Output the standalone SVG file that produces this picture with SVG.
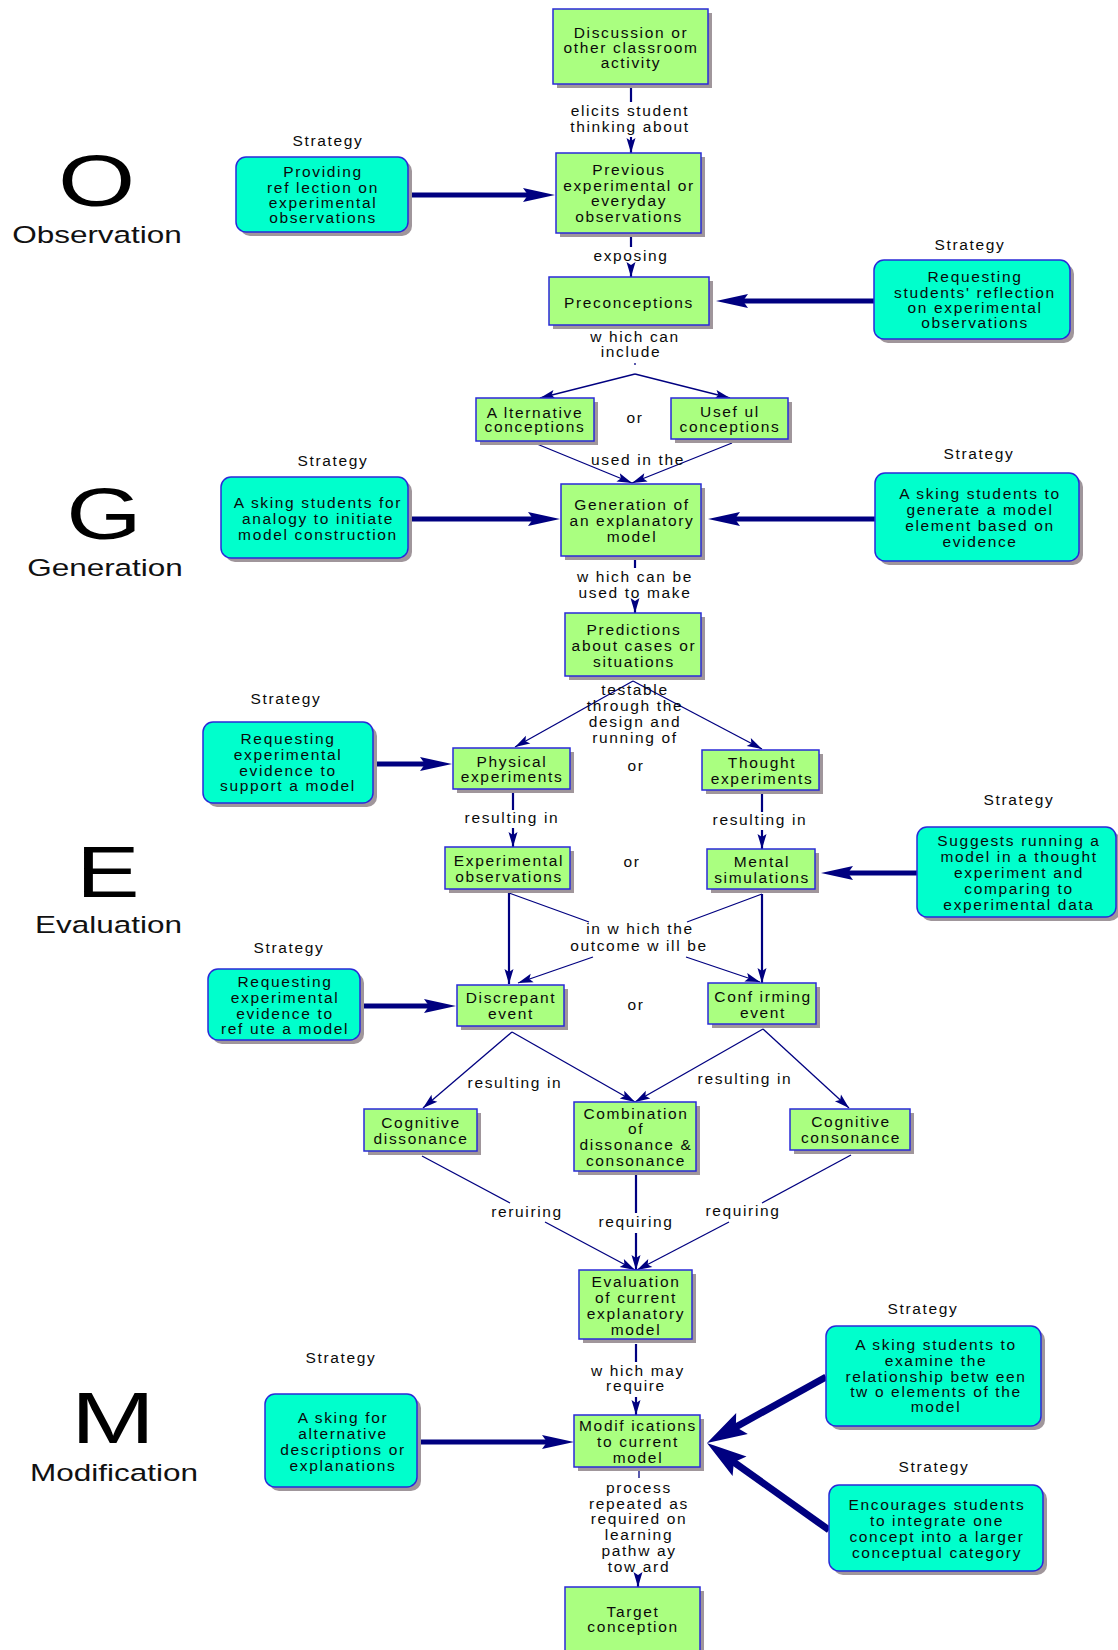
<svg xmlns="http://www.w3.org/2000/svg" width="1118" height="1650" viewBox="0 0 1118 1650">
<style>
text{font-family:"Liberation Sans",Arial,Helvetica,sans-serif;font-size:15.5px;letter-spacing:1.65px;fill:#0a0a0a;text-anchor:middle}
.big{font-size:73px;letter-spacing:0;fill:#000}
.ttl{font-size:23.5px;letter-spacing:0;fill:#111}
.sh{fill:#a0969b}
.cb{fill:#aaff80;stroke:#2a2ad8;stroke-width:1.5}
.sb{fill:#00ffcc;stroke:#2a2ad8;stroke-width:1.5}
.ln{fill:none;stroke:#000080;stroke-width:1.3}
.md{stroke-width:2.2}
.tk{stroke-width:5}
.vt{stroke-width:7}
</style>
<defs>
<marker id="at" markerUnits="userSpaceOnUse" orient="auto" overflow="visible" markerWidth="20" markerHeight="20" refX="0" refY="0"><path d="M0,0 L-15,-4.5 L-12,0 L-15,4.5 Z" fill="#000080"/></marker>
<marker id="ak" markerUnits="userSpaceOnUse" orient="auto" overflow="visible" markerWidth="40" markerHeight="20" refX="0" refY="0"><path d="M14,0 L-18,-7 L-13,0 L-18,7 Z" fill="#000080"/></marker>
<marker id="av" markerUnits="userSpaceOnUse" orient="auto" overflow="visible" markerWidth="50" markerHeight="30" refX="0" refY="0"><path d="M16,0 L-24,-12 L-17,0 L-24,12 Z" fill="#000080"/></marker>
</defs>
<rect width="1118" height="1650" fill="#fff"/>

<g id="phases">
<text class="big" transform="translate(96.5,206) scale(1.36,1)">O</text>
<text class="ttl" transform="translate(97,243) scale(1.34,1)">Observation</text>
<text class="big" transform="translate(104,539) scale(1.33,1)">G</text>
<text class="ttl" transform="translate(105,576) scale(1.34,1)">Generation</text>
<text class="big" transform="translate(108,897) scale(1.3,1)">E</text>
<text class="ttl" transform="translate(108.5,933) scale(1.34,1)">Evaluation</text>
<text class="big" transform="translate(113,1443) scale(1.38,1)">M</text>
<text class="ttl" transform="translate(114,1481) scale(1.34,1)">Modification</text>
</g>

<g id="connectors">
<!-- Discussion -> Previous -->
<path class="ln md" d="M631,88 V102"/>
<path class="ln md" d="M631,137 V153" marker-end="url(#at)"/>
<text x="630" y="116">elicits student</text><text x="630" y="132">thinking about</text>
<!-- Previous -> Preconceptions -->
<path class="ln md" d="M631,237 V247"/>
<path class="ln md" d="M631,266 V277" marker-end="url(#at)"/>
<text x="631" y="261">exposing</text>
<!-- Preconceptions -> Alternative / Useful -->
<text x="635" y="342">w hich can</text><text x="631" y="357">include</text>
<path class="ln" d="M635,363 V365"/>
<path class="ln" d="M635,374 L540,398" marker-end="url(#at)"/>
<path class="ln" d="M635,374 L730,398" marker-end="url(#at)"/>
<!-- Alternative / Useful -> Generation -->
<path class="ln" d="M537,444 L632,483" marker-end="url(#at)"/>
<path class="ln" d="M732,443 L632,483" marker-end="url(#at)"/>
<text x="638" y="465">used in the</text>
<!-- Generation -> Predictions -->
<path class="ln md" d="M635,560 V568"/>
<path class="ln md" d="M635,603 V613" marker-end="url(#at)"/>
<text x="635" y="582">w hich can be</text><text x="635" y="598">used to make</text>
<!-- Predictions -> Physical / Thought -->
<path class="ln" d="M633,681 L515,747" marker-end="url(#at)"/>
<path class="ln" d="M633,681 L762,749" marker-end="url(#at)"/>
<text x="635" y="695">testable</text><text x="635" y="711">through the</text><text x="635" y="727">design and</text><text x="635" y="743">running of</text>
<!-- Physical -> Experimental observations -->
<path class="ln md" d="M513,793 V810"/>
<path class="ln md" d="M513,828 V847" marker-end="url(#at)"/>
<text x="512" y="823">resulting in</text>
<!-- Thought -> Mental -->
<path class="ln md" d="M762,794 V812"/>
<path class="ln md" d="M762,830 V849" marker-end="url(#at)"/>
<text x="760" y="825">resulting in</text>
<!-- observations / simulations -> events -->
<path class="ln md" d="M509,893 V984" marker-end="url(#at)"/>
<path class="ln md" d="M762,894 V983" marker-end="url(#at)"/>
<path class="ln" d="M509,893 L589,922"/>
<path class="ln" d="M762,894 L687,922"/>
<path class="ln" d="M593,957 L518,983" marker-end="url(#at)"/>
<path class="ln" d="M686,957 L760,982" marker-end="url(#at)"/>
<text x="640" y="934">in w hich the</text><text x="639" y="951">outcome w ill be</text>
<!-- Discrepant -> -->
<path class="ln" d="M512,1032 L423,1108" marker-end="url(#at)"/>
<path class="ln" d="M512,1032 L635,1102" marker-end="url(#at)"/>
<text x="515" y="1088">resulting in</text>
<!-- Confirming -> -->
<path class="ln" d="M763,1029 L635,1102" marker-end="url(#at)"/>
<path class="ln" d="M763,1029 L849,1108" marker-end="url(#at)"/>
<text x="745" y="1084">resulting in</text>
<!-- -> Evaluation -->
<path class="ln" d="M422,1156 L510,1203"/>
<path class="ln" d="M545,1222 L635,1270" marker-end="url(#at)"/>
<text x="527" y="1217">reruiring</text>
<path class="ln md" d="M636,1175 V1213"/>
<path class="ln md" d="M636,1233 V1270" marker-end="url(#at)"/>
<text x="636" y="1227">requiring</text>
<path class="ln" d="M851,1155 L762,1203"/>
<path class="ln" d="M729,1222 L637,1270" marker-end="url(#at)"/>
<text x="743" y="1216">requiring</text>
<!-- Evaluation -> Modifications -->
<path class="ln md" d="M636,1344 V1362"/>
<path class="ln md" d="M636,1397 V1415" marker-end="url(#at)"/>
<text x="638" y="1376">w hich may</text><text x="636" y="1391">require</text>
<!-- Modifications -> Target -->
<path class="ln" d="M639,1471 V1478"/>
<path class="ln md" d="M638,1577 V1587" marker-end="url(#at)"/>
<text x="639" y="1493">process</text><text x="639" y="1509">repeated as</text><text x="639" y="1524">required on</text><text x="639" y="1540">learning</text><text x="639" y="1556">pathw ay</text><text x="639" y="1572">tow ard</text>
<!-- "or" labels -->
<text x="635" y="423">or</text>
<text x="636" y="771">or</text>
<text x="632" y="867">or</text>
<text x="636" y="1010">or</text>
<!-- strategy arrows -->
<path class="ln tk" d="M412,195 H541" marker-end="url(#ak)"/>
<path class="ln tk" d="M874,301 H730" marker-end="url(#ak)"/>
<path class="ln tk" d="M412,519 H546" marker-end="url(#ak)"/>
<path class="ln tk" d="M875,519 H722" marker-end="url(#ak)"/>
<path class="ln tk" d="M377,764 H438" marker-end="url(#ak)"/>
<path class="ln tk" d="M917,873 H835" marker-end="url(#ak)"/>
<path class="ln tk" d="M364,1006 H442" marker-end="url(#ak)"/>
<path class="ln tk" d="M421,1442 H560" marker-end="url(#ak)"/>
<path class="ln vt" d="M826,1377 L721,1435.2" marker-end="url(#av)"/>
<path class="ln vt" d="M829,1530 L720,1452.3" marker-end="url(#av)"/>
</g>

<g id="n-discussion"><rect class="sh" x="557" y="13" width="155" height="75"/><rect class="cb" x="553" y="9" width="155" height="75"/><text x="631" y="38">Discussion or</text><text x="631" y="53">other classroom</text><text x="631" y="68">activity</text></g>
<g id="n-previous"><rect class="sh" x="560" y="157" width="145" height="80"/><rect class="cb" x="556" y="153" width="145" height="80"/><text x="629" y="175">Previous</text><text x="629" y="191">experimental or</text><text x="629" y="206">everyday</text><text x="629" y="222">observations</text></g>
<g id="n-preconceptions"><rect class="sh" x="553" y="281" width="160" height="48"/><rect class="cb" x="549" y="277" width="160" height="48"/><text x="629" y="308">Preconceptions</text></g>
<g id="n-alternative"><rect class="sh" x="480" y="402" width="118" height="43"/><rect class="cb" x="476" y="398" width="118" height="43"/><text x="535" y="418">A lternative</text><text x="535" y="432">conceptions</text></g>
<g id="n-useful"><rect class="sh" x="675" y="402" width="117" height="41"/><rect class="cb" x="671" y="398" width="117" height="41"/><text x="730" y="417">Usef ul</text><text x="730" y="432">conceptions</text></g>
<g id="n-generation"><rect class="sh" x="565" y="488" width="140" height="72"/><rect class="cb" x="561" y="484" width="140" height="72"/><text x="632" y="510">Generation of</text><text x="632" y="526">an explanatory</text><text x="632" y="542">model</text></g>
<g id="n-predictions"><rect class="sh" x="569" y="617" width="136" height="63"/><rect class="cb" x="565" y="613" width="136" height="63"/><text x="634" y="635">Predictions</text><text x="634" y="651">about cases or</text><text x="634" y="667">situations</text></g>
<g id="n-physical"><rect class="sh" x="457" y="752" width="117" height="41"/><rect class="cb" x="453" y="748" width="117" height="41"/><text x="512" y="767">Physical</text><text x="512" y="782">experiments</text></g>
<g id="n-thought"><rect class="sh" x="706" y="754" width="117" height="40"/><rect class="cb" x="702" y="750" width="117" height="40"/><text x="762" y="768">Thought</text><text x="762" y="784">experiments</text></g>
<g id="n-expobs"><rect class="sh" x="449" y="851" width="125" height="42"/><rect class="cb" x="445" y="847" width="125" height="42"/><text x="509" y="866">Experimental</text><text x="509" y="882">observations</text></g>
<g id="n-mental"><rect class="sh" x="711" y="853" width="108" height="40"/><rect class="cb" x="707" y="849" width="108" height="40"/><text x="762" y="867">Mental</text><text x="762" y="883">simulations</text></g>
<g id="n-discrepant"><rect class="sh" x="461" y="989" width="107" height="41"/><rect class="cb" x="457" y="985" width="107" height="41"/><text x="511" y="1003">Discrepant</text><text x="511" y="1019">event</text></g>
<g id="n-confirming"><rect class="sh" x="712" y="987" width="108" height="41"/><rect class="cb" x="708" y="983" width="108" height="41"/><text x="763" y="1002">Conf irming</text><text x="763" y="1018">event</text></g>
<g id="n-cogdissonance"><rect class="sh" x="368" y="1113" width="113" height="42"/><rect class="cb" x="364" y="1109" width="113" height="42"/><text x="421" y="1128">Cognitive</text><text x="421" y="1144">dissonance</text></g>
<g id="n-combination"><rect class="sh" x="578" y="1106" width="122" height="69"/><rect class="cb" x="574" y="1102" width="122" height="69"/><text x="636" y="1119">Combination</text><text x="636" y="1134">of</text><text x="636" y="1150">dissonance &amp;</text><text x="636" y="1166">consonance</text></g>
<g id="n-cogconsonance"><rect class="sh" x="794" y="1113" width="120" height="41"/><rect class="cb" x="790" y="1109" width="120" height="41"/><text x="851" y="1127">Cognitive</text><text x="851" y="1143">consonance</text></g>
<g id="n-evaluation"><rect class="sh" x="583" y="1274" width="113" height="69"/><rect class="cb" x="579" y="1270" width="113" height="69"/><text x="636" y="1287">Evaluation</text><text x="636" y="1303">of current</text><text x="636" y="1319">explanatory</text><text x="636" y="1335">model</text></g>
<g id="n-modifications"><rect class="sh" x="578" y="1419" width="126" height="52"/><rect class="cb" x="574" y="1415" width="126" height="52"/><text x="638" y="1431">Modif ications</text><text x="638" y="1447">to current</text><text x="638" y="1463">model</text></g>
<g id="n-target"><rect class="sh" x="569" y="1591" width="135" height="68"/><rect class="cb" x="565" y="1587" width="135" height="68"/><text x="633" y="1617">Target</text><text x="633" y="1632">conception</text></g>

<g id="s-providing"><text x="328" y="146">Strategy</text><rect class="sh" x="240" y="161" width="172" height="75" rx="10"/><rect class="sb" x="236" y="157" width="172" height="75" rx="10"/><text x="323" y="177">Providing</text><text x="323" y="193">ref lection on</text><text x="323" y="208">experimental</text><text x="323" y="223">observations</text></g>
<g id="s-requesting-reflection"><text x="970" y="250">Strategy</text><rect class="sh" x="878" y="264" width="196" height="79" rx="10"/><rect class="sb" x="874" y="260" width="196" height="79" rx="10"/><text x="975" y="282">Requesting</text><text x="975" y="298">students' reflection</text><text x="975" y="313">on experimental</text><text x="975" y="328">observations</text></g>
<g id="s-analogy"><text x="333" y="466">Strategy</text><rect class="sh" x="225" y="481" width="187" height="81" rx="10"/><rect class="sb" x="221" y="477" width="187" height="81" rx="10"/><text x="318" y="508">A sking students for</text><text x="318" y="524">analogy to initiate</text><text x="318" y="540">model construction</text></g>
<g id="s-generate"><text x="979" y="459">Strategy</text><rect class="sh" x="879" y="477" width="204" height="88" rx="10"/><rect class="sb" x="875" y="473" width="204" height="88" rx="10"/><text x="980" y="499">A sking students to</text><text x="980" y="515">generate a model</text><text x="980" y="531">element based on</text><text x="980" y="547">evidence</text></g>
<g id="s-support"><text x="286" y="704">Strategy</text><rect class="sh" x="207" y="726" width="170" height="81" rx="10"/><rect class="sb" x="203" y="722" width="170" height="81" rx="10"/><text x="288" y="744">Requesting</text><text x="288" y="760">experimental</text><text x="288" y="776">evidence to</text><text x="288" y="791">support a model</text></g>
<g id="s-suggests"><text x="1019" y="805">Strategy</text><rect class="sh" x="921" y="831" width="199" height="90" rx="10"/><rect class="sb" x="917" y="827" width="199" height="90" rx="10"/><text x="1019" y="846">Suggests running a</text><text x="1019" y="862">model in a thought</text><text x="1019" y="878">experiment and</text><text x="1019" y="894">comparing to</text><text x="1019" y="910">experimental data</text></g>
<g id="s-refute"><text x="289" y="953">Strategy</text><rect class="sh" x="212" y="973" width="152" height="71" rx="10"/><rect class="sb" x="208" y="969" width="152" height="71" rx="10"/><text x="285" y="987">Requesting</text><text x="285" y="1003">experimental</text><text x="285" y="1019">evidence to</text><text x="285" y="1034">ref ute a model</text></g>
<g id="s-alternative"><text x="341" y="1363">Strategy</text><rect class="sh" x="269" y="1398" width="152" height="93" rx="10"/><rect class="sb" x="265" y="1394" width="152" height="93" rx="10"/><text x="343" y="1423">A sking for</text><text x="343" y="1439">alternative</text><text x="343" y="1455">descriptions or</text><text x="343" y="1471">explanations</text></g>
<g id="s-relationship"><text x="923" y="1314">Strategy</text><rect class="sh" x="830" y="1330" width="215" height="100" rx="10"/><rect class="sb" x="826" y="1326" width="215" height="100" rx="10"/><text x="936" y="1350">A sking students to</text><text x="936" y="1366">examine the</text><text x="936" y="1382">relationship betw een</text><text x="936" y="1397">tw o elements of the</text><text x="936" y="1412">model</text></g>
<g id="s-integrate"><text x="934" y="1472">Strategy</text><rect class="sh" x="833" y="1489" width="214" height="86" rx="10"/><rect class="sb" x="829" y="1485" width="214" height="86" rx="10"/><text x="937" y="1510">Encourages students</text><text x="937" y="1526">to integrate one</text><text x="937" y="1542">concept into a larger</text><text x="937" y="1558">conceptual category</text></g>
</svg>
